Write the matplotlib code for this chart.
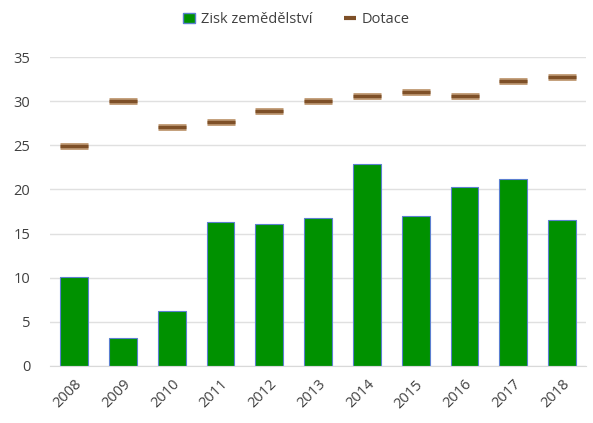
import matplotlib.pyplot as plt
from matplotlib.lines import Line2D
from matplotlib.patches import Patch

plt.rcParams['font.family'] = ['Open Sans', 'DejaVu Sans']

# data
years = ['2008', '2009', '2010', '2011', '2012', '2013', '2014', '2015', '2016', '2017', '2018']
zisk = [10.1, 3.2, 6.2, 16.3, 16.1, 16.8, 22.9, 17.0, 20.3, 21.2, 16.5]
dotace = [24.9, 30.0, 27.1, 27.6, 28.9, 30.0, 30.6, 31.0, 30.6, 32.3, 32.7]

bar_green = '#009100'
brown = '#7E5028'
text_col = '#404040'

fig = plt.figure(figsize=(5.93, 4.23), dpi=100)
ax = fig.add_axes([0.084, 0.135, 0.905, 0.73])

x = range(len(years))
ax.bar(x, zisk, width=0.57, color=bar_green, edgecolor='#5B7FD0', linewidth=0.8, zorder=2)

# dash markers for Dotace, soft lighter band under a darker core
ax.plot(x, dotace, linestyle='none', marker='_', markersize=20, mew=5,
        color='#C4A07C', zorder=3)
ax.plot(x, dotace, linestyle='none', marker='_', markersize=20, mew=2.5,
        color=brown, zorder=4)

ax.set_ylim(0, 35)
ax.set_xlim(-0.5, len(years) - 0.5)
ax.set_yticks(range(0, 36, 5))
ax.set_xticks(list(x))
ax.set_xticklabels(years, rotation=45, ha='right', rotation_mode='anchor')
ax.tick_params(axis='both', length=0, colors=text_col, labelsize=10.5)
ax.tick_params(axis='x', pad=8)
ax.tick_params(axis='y', pad=14)
ax.yaxis.grid(True, color='#E0E0E0', linewidth=1)
ax.set_axisbelow(True)
for s in ['top', 'right', 'left']:
    ax.spines[s].set_visible(False)
ax.spines['bottom'].set_color('#D9D9D9')

handles = [Patch(facecolor=bar_green, edgecolor='#5B7FD0', label='Zisk zemědělství'),
           Line2D([], [], linestyle='none', marker='_', markersize=9, mew=3,
                  color=brown, label='Dotace')]
fig.legend(handles=handles, loc='center', bbox_to_anchor=(0.5, 0.953), ncol=2,
           frameon=False, fontsize=10.5, handlelength=0.8, handletextpad=0.4,
           columnspacing=2.2, labelcolor=text_col)

fig.savefig('out.png', dpi=100)
